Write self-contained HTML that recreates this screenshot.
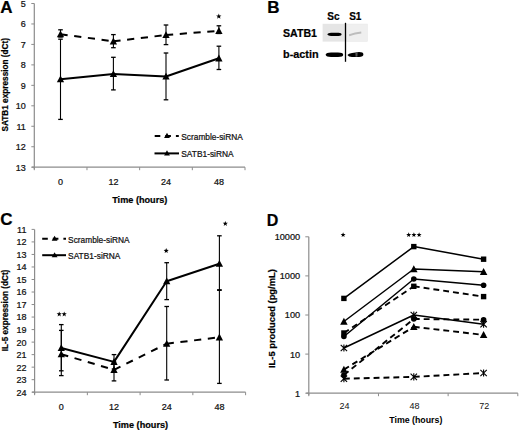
<!DOCTYPE html>
<html><head><meta charset="utf-8"><style>
html,body{margin:0;padding:0;background:#fff;}
svg{display:block;font-family:"Liberation Sans", sans-serif;}
text{stroke:#000;stroke-width:0.22px;paint-order:stroke;}
text.ns{stroke:none;}
</style></head><body>
<svg width="520" height="430" viewBox="0 0 520 430">
<rect width="520" height="430" fill="#fff"/>
<text x="0.20" y="12.90" font-size="17" font-weight="bold" text-anchor="start" fill="#000" >A</text>
<line x1="34.30" y1="3.50" x2="34.30" y2="169.20" stroke="#8c8c8c" stroke-width="1.2" />
<line x1="31.30" y1="3.50" x2="34.30" y2="3.50" stroke="#8c8c8c" stroke-width="1" />
<text x="25.80" y="6.90" font-size="9" font-weight="normal" text-anchor="end" fill="#111" >5</text>
<line x1="31.30" y1="23.96" x2="34.30" y2="23.96" stroke="#8c8c8c" stroke-width="1" />
<text x="25.80" y="27.36" font-size="9" font-weight="normal" text-anchor="end" fill="#111" >6</text>
<line x1="31.30" y1="44.42" x2="34.30" y2="44.42" stroke="#8c8c8c" stroke-width="1" />
<text x="25.80" y="47.82" font-size="9" font-weight="normal" text-anchor="end" fill="#111" >7</text>
<line x1="31.30" y1="64.89" x2="34.30" y2="64.89" stroke="#8c8c8c" stroke-width="1" />
<text x="25.80" y="68.29" font-size="9" font-weight="normal" text-anchor="end" fill="#111" >8</text>
<line x1="31.30" y1="85.35" x2="34.30" y2="85.35" stroke="#8c8c8c" stroke-width="1" />
<text x="25.80" y="88.75" font-size="9" font-weight="normal" text-anchor="end" fill="#111" >9</text>
<line x1="31.30" y1="105.81" x2="34.30" y2="105.81" stroke="#8c8c8c" stroke-width="1" />
<text x="25.80" y="109.21" font-size="9" font-weight="normal" text-anchor="end" fill="#111" >10</text>
<line x1="31.30" y1="126.27" x2="34.30" y2="126.27" stroke="#8c8c8c" stroke-width="1" />
<text x="25.80" y="129.67" font-size="9" font-weight="normal" text-anchor="end" fill="#111" >11</text>
<line x1="31.30" y1="146.74" x2="34.30" y2="146.74" stroke="#8c8c8c" stroke-width="1" />
<text x="25.80" y="150.14" font-size="9" font-weight="normal" text-anchor="end" fill="#111" >12</text>
<line x1="31.30" y1="167.20" x2="34.30" y2="167.20" stroke="#8c8c8c" stroke-width="1" />
<text x="25.80" y="170.60" font-size="9" font-weight="normal" text-anchor="end" fill="#111" >13</text>
<line x1="31.80" y1="167.20" x2="245.00" y2="167.20" stroke="#8c8c8c" stroke-width="1.2" />
<line x1="34.30" y1="167.20" x2="34.30" y2="170.20" stroke="#8c8c8c" stroke-width="1" />
<line x1="86.97" y1="167.20" x2="86.97" y2="170.20" stroke="#8c8c8c" stroke-width="1" />
<line x1="139.65" y1="167.20" x2="139.65" y2="170.20" stroke="#8c8c8c" stroke-width="1" />
<line x1="192.32" y1="167.20" x2="192.32" y2="170.20" stroke="#8c8c8c" stroke-width="1" />
<line x1="245.00" y1="167.20" x2="245.00" y2="170.20" stroke="#8c8c8c" stroke-width="1" />
<text x="60.50" y="184.80" font-size="9" font-weight="normal" text-anchor="middle" fill="#111" >0</text>
<text x="113.40" y="184.80" font-size="9" font-weight="normal" text-anchor="middle" fill="#111" >12</text>
<text x="166.00" y="184.80" font-size="9" font-weight="normal" text-anchor="middle" fill="#111" >24</text>
<text x="218.90" y="184.80" font-size="9" font-weight="normal" text-anchor="middle" fill="#111" >48</text>
<text x="139.80" y="203.00" font-size="9.6" font-weight="bold" text-anchor="middle" fill="#000"  textLength="55.2" lengthAdjust="spacingAndGlyphs">Time (hours)</text>
<text transform="translate(7.9,84.75) rotate(-90)" x="0" y="0" font-size="8.4" font-weight="bold" text-anchor="middle" fill="#000" textLength="93.5" lengthAdjust="spacingAndGlyphs">SATB1 expression (dCt)</text>
<line x1="60.50" y1="29.80" x2="60.50" y2="37.00" stroke="#000" stroke-width="1.1" />
<line x1="58.20" y1="29.80" x2="62.80" y2="29.80" stroke="#000" stroke-width="1.3" />
<line x1="58.20" y1="37.00" x2="62.80" y2="37.00" stroke="#000" stroke-width="1.3" />
<line x1="60.50" y1="39.20" x2="60.50" y2="119.40" stroke="#000" stroke-width="1.1" />
<line x1="58.20" y1="39.20" x2="62.80" y2="39.20" stroke="#000" stroke-width="1.3" />
<line x1="58.20" y1="119.40" x2="62.80" y2="119.40" stroke="#000" stroke-width="1.3" />
<line x1="113.40" y1="34.60" x2="113.40" y2="47.70" stroke="#000" stroke-width="1.1" />
<line x1="111.10" y1="34.60" x2="115.70" y2="34.60" stroke="#000" stroke-width="1.3" />
<line x1="111.10" y1="47.70" x2="115.70" y2="47.70" stroke="#000" stroke-width="1.3" />
<line x1="113.40" y1="57.30" x2="113.40" y2="89.90" stroke="#000" stroke-width="1.1" />
<line x1="111.10" y1="57.30" x2="115.70" y2="57.30" stroke="#000" stroke-width="1.3" />
<line x1="111.10" y1="89.90" x2="115.70" y2="89.90" stroke="#000" stroke-width="1.3" />
<line x1="166.00" y1="25.00" x2="166.00" y2="44.60" stroke="#000" stroke-width="1.1" />
<line x1="163.70" y1="25.00" x2="168.30" y2="25.00" stroke="#000" stroke-width="1.3" />
<line x1="163.70" y1="44.60" x2="168.30" y2="44.60" stroke="#000" stroke-width="1.3" />
<line x1="166.00" y1="53.00" x2="166.00" y2="99.80" stroke="#000" stroke-width="1.1" />
<line x1="163.70" y1="53.00" x2="168.30" y2="53.00" stroke="#000" stroke-width="1.3" />
<line x1="163.70" y1="99.80" x2="168.30" y2="99.80" stroke="#000" stroke-width="1.3" />
<line x1="218.90" y1="25.80" x2="218.90" y2="33.50" stroke="#000" stroke-width="1.1" />
<line x1="216.60" y1="25.80" x2="221.20" y2="25.80" stroke="#000" stroke-width="1.3" />
<line x1="216.60" y1="33.50" x2="221.20" y2="33.50" stroke="#000" stroke-width="1.3" />
<line x1="218.90" y1="46.20" x2="218.90" y2="69.50" stroke="#000" stroke-width="1.1" />
<line x1="216.60" y1="46.20" x2="221.20" y2="46.20" stroke="#000" stroke-width="1.3" />
<line x1="216.60" y1="69.50" x2="221.20" y2="69.50" stroke="#000" stroke-width="1.3" />
<line x1="60.50" y1="34.20" x2="113.40" y2="41.30" stroke="#000" stroke-width="2" stroke-dasharray="7.2,6.6"/>
<line x1="113.40" y1="41.30" x2="166.00" y2="35.00" stroke="#000" stroke-width="2" stroke-dasharray="7.2,6.6"/>
<line x1="166.00" y1="35.00" x2="218.90" y2="30.80" stroke="#000" stroke-width="2" stroke-dasharray="7.2,6.6"/>
<polyline points="60.50,79.20 113.40,74.00 166.00,76.50 218.90,58.30" fill="none" stroke="#000" stroke-width="2" stroke-linejoin="round"/>
<path d="M60.50,30.41 L64.15,37.31 L56.85,37.31 Z" fill="#000"/>
<path d="M60.50,75.41 L64.15,82.31 L56.85,82.31 Z" fill="#000"/>
<path d="M113.40,37.50 L117.05,44.41 L109.75,44.41 Z" fill="#000"/>
<path d="M113.40,70.20 L117.05,77.11 L109.75,77.11 Z" fill="#000"/>
<path d="M166.00,31.20 L169.65,38.11 L162.35,38.11 Z" fill="#000"/>
<path d="M166.00,72.70 L169.65,79.61 L162.35,79.61 Z" fill="#000"/>
<path d="M218.90,27.00 L222.55,33.91 L215.25,33.91 Z" fill="#000"/>
<path d="M218.90,54.50 L222.55,61.41 L215.25,61.41 Z" fill="#000"/>
<polygon points="218.80,13.60 219.51,15.43 221.46,15.53 219.94,16.77 220.45,18.67 218.80,17.60 217.15,18.67 217.66,16.77 216.14,15.53 218.09,15.43" fill="#000"/>
<line x1="154.70" y1="135.90" x2="178.80" y2="135.90" stroke="#000" stroke-width="2" stroke-dasharray="5.6,5"/>
<path d="M167.00,132.84 L169.90,138.04 L164.10,138.04 Z" fill="#000"/>
<text x="181.30" y="139.90" font-size="8.8" font-weight="normal" text-anchor="start" fill="#111"  textLength="61.5" lengthAdjust="spacingAndGlyphs">Scramble-siRNA</text>
<polyline points="154.50,153.40 179.00,153.40" fill="none" stroke="#000" stroke-width="2" stroke-linejoin="round"/>
<path d="M167.00,150.34 L169.90,155.54 L164.10,155.54 Z" fill="#000"/>
<text x="181.30" y="156.70" font-size="8.8" font-weight="normal" text-anchor="start" fill="#111"  textLength="52.3" lengthAdjust="spacingAndGlyphs">SATB1-siRNA</text>
<text x="267.20" y="12.90" font-size="17" font-weight="bold" text-anchor="start" fill="#000" >B</text>
<text x="333.40" y="20.30" font-size="10" font-weight="bold" text-anchor="middle" fill="#000" >Sc</text>
<text x="355.30" y="20.30" font-size="10" font-weight="bold" text-anchor="middle" fill="#000" >S1</text>
<defs><filter id="bl" x="-20%" y="-50%" width="140%" height="200%"><feGaussianBlur stdDeviation="0.45"/></filter><filter id="bl2" x="-20%" y="-50%" width="140%" height="200%"><feGaussianBlur stdDeviation="0.7"/></filter></defs>
<rect x="322.6" y="23.8" width="45" height="17.8" fill="#e5e5e5"/>
<rect x="346.5" y="24.2" width="20.5" height="17" fill="#efefef" filter="url(#bl2)"/>
<text x="283.00" y="36.50" font-size="10.5" font-weight="bold" text-anchor="start" fill="#000"  textLength="34.0" lengthAdjust="spacingAndGlyphs">SATB1</text>
<text x="283.00" y="57.90" font-size="10.8" font-weight="bold" text-anchor="start" fill="#000"  textLength="35.6" lengthAdjust="spacingAndGlyphs">b-actin</text>
<path d="M327.2,34.3 Q328,32.8 331,32.7 L338.5,32.7 Q341.6,32.8 341.6,34.3 Q341.6,35.9 338.5,35.9 L331,35.9 Q328,35.8 327.2,34.3 Z" fill="#000" filter="url(#bl)"/>
<path d="M349.0,34.2 Q355,32.2 361.2,31.4 L361.4,33.6 Q355,34.4 349.2,36.2 Z" fill="#bdbdbd" filter="url(#bl2)"/>
<path d="M325.6,54.8 Q326.2,52.6 331,52.5 L338,52.5 Q343.2,52.6 343.2,54.8 Q343.2,57.0 338,57.1 L331,57.1 Q326.2,57.0 325.6,54.8 Z" fill="#000" filter="url(#bl)"/>
<path d="M347.4,55.0 Q348.5,53.3 352,53.0 L359,52.0 Q363.4,52.0 363.4,54.4 Q363.4,56.8 359,56.9 L352,57.0 Q348.5,56.8 347.4,55.0 Z" fill="#000" filter="url(#bl)"/>
<path d="M355.4,53.0 L357.6,52.6 L357.4,56.6 L355.6,56.8 Z" fill="#555" filter="url(#bl)"/>
<line x1="345.50" y1="22.80" x2="345.50" y2="61.80" stroke="#000" stroke-width="1.3" />
<text x="0.20" y="224.90" font-size="17" font-weight="bold" text-anchor="start" fill="#000" >C</text>
<line x1="34.60" y1="229.40" x2="34.60" y2="394.20" stroke="#8c8c8c" stroke-width="1.2" />
<line x1="31.60" y1="229.40" x2="34.60" y2="229.40" stroke="#8c8c8c" stroke-width="1" />
<text x="26.40" y="232.80" font-size="9" font-weight="normal" text-anchor="end" fill="#111" >11</text>
<line x1="31.60" y1="241.92" x2="34.60" y2="241.92" stroke="#8c8c8c" stroke-width="1" />
<text x="26.40" y="245.32" font-size="9" font-weight="normal" text-anchor="end" fill="#111" >12</text>
<line x1="31.60" y1="254.45" x2="34.60" y2="254.45" stroke="#8c8c8c" stroke-width="1" />
<text x="26.40" y="257.85" font-size="9" font-weight="normal" text-anchor="end" fill="#111" >13</text>
<line x1="31.60" y1="266.97" x2="34.60" y2="266.97" stroke="#8c8c8c" stroke-width="1" />
<text x="26.40" y="270.37" font-size="9" font-weight="normal" text-anchor="end" fill="#111" >14</text>
<line x1="31.60" y1="279.49" x2="34.60" y2="279.49" stroke="#8c8c8c" stroke-width="1" />
<text x="26.40" y="282.89" font-size="9" font-weight="normal" text-anchor="end" fill="#111" >15</text>
<line x1="31.60" y1="292.02" x2="34.60" y2="292.02" stroke="#8c8c8c" stroke-width="1" />
<text x="26.40" y="295.42" font-size="9" font-weight="normal" text-anchor="end" fill="#111" >16</text>
<line x1="31.60" y1="304.54" x2="34.60" y2="304.54" stroke="#8c8c8c" stroke-width="1" />
<text x="26.40" y="307.94" font-size="9" font-weight="normal" text-anchor="end" fill="#111" >17</text>
<line x1="31.60" y1="317.06" x2="34.60" y2="317.06" stroke="#8c8c8c" stroke-width="1" />
<text x="26.40" y="320.46" font-size="9" font-weight="normal" text-anchor="end" fill="#111" >18</text>
<line x1="31.60" y1="329.58" x2="34.60" y2="329.58" stroke="#8c8c8c" stroke-width="1" />
<text x="26.40" y="332.98" font-size="9" font-weight="normal" text-anchor="end" fill="#111" >19</text>
<line x1="31.60" y1="342.11" x2="34.60" y2="342.11" stroke="#8c8c8c" stroke-width="1" />
<text x="26.40" y="345.51" font-size="9" font-weight="normal" text-anchor="end" fill="#111" >20</text>
<line x1="31.60" y1="354.63" x2="34.60" y2="354.63" stroke="#8c8c8c" stroke-width="1" />
<text x="26.40" y="358.03" font-size="9" font-weight="normal" text-anchor="end" fill="#111" >21</text>
<line x1="31.60" y1="367.15" x2="34.60" y2="367.15" stroke="#8c8c8c" stroke-width="1" />
<text x="26.40" y="370.55" font-size="9" font-weight="normal" text-anchor="end" fill="#111" >22</text>
<line x1="31.60" y1="379.68" x2="34.60" y2="379.68" stroke="#8c8c8c" stroke-width="1" />
<text x="26.40" y="383.08" font-size="9" font-weight="normal" text-anchor="end" fill="#111" >23</text>
<line x1="31.60" y1="392.20" x2="34.60" y2="392.20" stroke="#8c8c8c" stroke-width="1" />
<text x="26.40" y="395.60" font-size="9" font-weight="normal" text-anchor="end" fill="#111" >24</text>
<line x1="32.10" y1="392.20" x2="245.60" y2="392.20" stroke="#8c8c8c" stroke-width="1.2" />
<line x1="34.60" y1="392.20" x2="34.60" y2="395.20" stroke="#8c8c8c" stroke-width="1" />
<line x1="87.35" y1="392.20" x2="87.35" y2="395.20" stroke="#8c8c8c" stroke-width="1" />
<line x1="140.10" y1="392.20" x2="140.10" y2="395.20" stroke="#8c8c8c" stroke-width="1" />
<line x1="192.85" y1="392.20" x2="192.85" y2="395.20" stroke="#8c8c8c" stroke-width="1" />
<line x1="245.60" y1="392.20" x2="245.60" y2="395.20" stroke="#8c8c8c" stroke-width="1" />
<text x="61.30" y="409.80" font-size="9" font-weight="normal" text-anchor="middle" fill="#111" >0</text>
<text x="114.00" y="409.80" font-size="9" font-weight="normal" text-anchor="middle" fill="#111" >12</text>
<text x="166.70" y="409.80" font-size="9" font-weight="normal" text-anchor="middle" fill="#111" >24</text>
<text x="219.40" y="409.80" font-size="9" font-weight="normal" text-anchor="middle" fill="#111" >48</text>
<text x="140.50" y="427.80" font-size="9.6" font-weight="bold" text-anchor="middle" fill="#000"  textLength="55.2" lengthAdjust="spacingAndGlyphs">Time (hours)</text>
<text transform="translate(8.0,310.5) rotate(-90)" x="0" y="0" font-size="8.4" font-weight="bold" text-anchor="middle" fill="#000" textLength="81.7" lengthAdjust="spacingAndGlyphs">IL-5 expression (dCt)</text>
<line x1="61.30" y1="330.40" x2="61.30" y2="375.60" stroke="#000" stroke-width="1.1" />
<line x1="59.00" y1="330.40" x2="63.60" y2="330.40" stroke="#000" stroke-width="1.3" />
<line x1="59.00" y1="375.60" x2="63.60" y2="375.60" stroke="#000" stroke-width="1.3" />
<line x1="61.30" y1="324.60" x2="61.30" y2="370.80" stroke="#000" stroke-width="1.1" />
<line x1="59.00" y1="324.60" x2="63.60" y2="324.60" stroke="#000" stroke-width="1.3" />
<line x1="59.00" y1="370.80" x2="63.60" y2="370.80" stroke="#000" stroke-width="1.3" />
<line x1="114.00" y1="362.00" x2="114.00" y2="380.90" stroke="#000" stroke-width="1.1" />
<line x1="111.70" y1="362.00" x2="116.30" y2="362.00" stroke="#000" stroke-width="1.3" />
<line x1="111.70" y1="380.90" x2="116.30" y2="380.90" stroke="#000" stroke-width="1.3" />
<line x1="114.00" y1="354.60" x2="114.00" y2="369.00" stroke="#000" stroke-width="1.1" />
<line x1="111.70" y1="354.60" x2="116.30" y2="354.60" stroke="#000" stroke-width="1.3" />
<line x1="111.70" y1="369.00" x2="116.30" y2="369.00" stroke="#000" stroke-width="1.3" />
<line x1="166.70" y1="306.50" x2="166.70" y2="380.00" stroke="#000" stroke-width="1.1" />
<line x1="164.40" y1="306.50" x2="169.00" y2="306.50" stroke="#000" stroke-width="1.3" />
<line x1="164.40" y1="380.00" x2="169.00" y2="380.00" stroke="#000" stroke-width="1.3" />
<line x1="166.70" y1="262.70" x2="166.70" y2="299.60" stroke="#000" stroke-width="1.1" />
<line x1="164.40" y1="262.70" x2="169.00" y2="262.70" stroke="#000" stroke-width="1.3" />
<line x1="164.40" y1="299.60" x2="169.00" y2="299.60" stroke="#000" stroke-width="1.3" />
<line x1="219.40" y1="289.80" x2="219.40" y2="383.40" stroke="#000" stroke-width="1.1" />
<line x1="217.10" y1="289.80" x2="221.70" y2="289.80" stroke="#000" stroke-width="1.3" />
<line x1="217.10" y1="383.40" x2="221.70" y2="383.40" stroke="#000" stroke-width="1.3" />
<line x1="219.40" y1="235.80" x2="219.40" y2="290.30" stroke="#000" stroke-width="1.1" />
<line x1="217.10" y1="235.80" x2="221.70" y2="235.80" stroke="#000" stroke-width="1.3" />
<line x1="217.10" y1="290.30" x2="221.70" y2="290.30" stroke="#000" stroke-width="1.3" />
<line x1="61.30" y1="354.20" x2="114.00" y2="369.80" stroke="#000" stroke-width="2" stroke-dasharray="7.2,6.6"/>
<line x1="114.00" y1="369.80" x2="166.70" y2="343.70" stroke="#000" stroke-width="2" stroke-dasharray="7.2,6.6"/>
<line x1="166.70" y1="343.70" x2="219.40" y2="337.30" stroke="#000" stroke-width="2" stroke-dasharray="7.2,6.6"/>
<polyline points="61.30,348.00 114.00,361.90 166.70,281.20 219.40,263.70" fill="none" stroke="#000" stroke-width="2" stroke-linejoin="round"/>
<path d="M61.30,350.40 L64.95,357.31 L57.65,357.31 Z" fill="#000"/>
<path d="M61.30,344.20 L64.95,351.11 L57.65,351.11 Z" fill="#000"/>
<path d="M114.00,366.00 L117.65,372.91 L110.35,372.91 Z" fill="#000"/>
<path d="M114.00,358.10 L117.65,365.00 L110.35,365.00 Z" fill="#000"/>
<path d="M166.70,339.90 L170.35,346.81 L163.05,346.81 Z" fill="#000"/>
<path d="M166.70,277.40 L170.35,284.31 L163.05,284.31 Z" fill="#000"/>
<path d="M219.40,333.50 L223.05,340.41 L215.75,340.41 Z" fill="#000"/>
<path d="M219.40,259.90 L223.05,266.81 L215.75,266.81 Z" fill="#000"/>
<polygon points="59.20,311.50 59.88,313.27 61.77,313.37 60.29,314.56 60.79,316.38 59.20,315.35 57.61,316.38 58.11,314.56 56.63,313.37 58.52,313.27" fill="#000"/>
<polygon points="64.20,311.50 64.88,313.27 66.77,313.37 65.29,314.56 65.79,316.38 64.20,315.35 62.61,316.38 63.11,314.56 61.63,313.37 63.52,313.27" fill="#000"/>
<polygon points="166.20,248.10 166.88,249.87 168.77,249.97 167.29,251.16 167.79,252.98 166.20,251.95 164.61,252.98 165.11,251.16 163.63,249.97 165.52,249.87" fill="#000"/>
<polygon points="225.30,221.00 225.98,222.77 227.87,222.87 226.39,224.06 226.89,225.88 225.30,224.85 223.71,225.88 224.21,224.06 222.73,222.87 224.62,222.77" fill="#000"/>
<line x1="42.20" y1="238.70" x2="66.00" y2="238.70" stroke="#000" stroke-width="2" stroke-dasharray="5.6,5"/>
<path d="M54.60,235.64 L57.50,240.84 L51.70,240.84 Z" fill="#000"/>
<text x="68.10" y="242.80" font-size="8.8" font-weight="normal" text-anchor="start" fill="#111"  textLength="61.5" lengthAdjust="spacingAndGlyphs">Scramble-siRNA</text>
<polyline points="42.20,255.20 66.00,255.20" fill="none" stroke="#000" stroke-width="2" stroke-linejoin="round"/>
<path d="M54.60,252.14 L57.50,257.34 L51.70,257.34 Z" fill="#000"/>
<text x="68.10" y="258.90" font-size="8.8" font-weight="normal" text-anchor="start" fill="#111"  textLength="52.3" lengthAdjust="spacingAndGlyphs">SATB1-siRNA</text>
<text x="266.80" y="225.60" font-size="16" font-weight="bold" text-anchor="start" fill="#000" >D</text>
<line x1="308.80" y1="236.80" x2="308.80" y2="395.20" stroke="#8c8c8c" stroke-width="1.2" />
<line x1="305.30" y1="236.80" x2="308.80" y2="236.80" stroke="#8c8c8c" stroke-width="1" />
<text x="300.20" y="240.20" font-size="9.2" font-weight="normal" text-anchor="end" fill="#111" >10000</text>
<line x1="305.30" y1="275.90" x2="308.80" y2="275.90" stroke="#8c8c8c" stroke-width="1" />
<text x="300.20" y="279.30" font-size="9.2" font-weight="normal" text-anchor="end" fill="#111" >1000</text>
<line x1="305.30" y1="315.00" x2="308.80" y2="315.00" stroke="#8c8c8c" stroke-width="1" />
<text x="300.20" y="318.40" font-size="9.2" font-weight="normal" text-anchor="end" fill="#111" >100</text>
<line x1="305.30" y1="354.10" x2="308.80" y2="354.10" stroke="#8c8c8c" stroke-width="1" />
<text x="300.20" y="357.50" font-size="9.2" font-weight="normal" text-anchor="end" fill="#111" >10</text>
<line x1="305.30" y1="393.20" x2="308.80" y2="393.20" stroke="#8c8c8c" stroke-width="1" />
<text x="300.20" y="396.60" font-size="9.2" font-weight="normal" text-anchor="end" fill="#111" >1</text>
<line x1="306.30" y1="393.20" x2="517.80" y2="393.20" stroke="#8c8c8c" stroke-width="1.2" />
<line x1="308.80" y1="393.20" x2="308.80" y2="396.20" stroke="#8c8c8c" stroke-width="1" />
<line x1="378.47" y1="393.20" x2="378.47" y2="396.20" stroke="#8c8c8c" stroke-width="1" />
<line x1="448.13" y1="393.20" x2="448.13" y2="396.20" stroke="#8c8c8c" stroke-width="1" />
<line x1="517.80" y1="393.20" x2="517.80" y2="396.20" stroke="#8c8c8c" stroke-width="1" />
<text x="344.50" y="409.00" font-size="9" font-weight="normal" text-anchor="middle" fill="#111" class="ns">24</text>
<text x="414.40" y="409.00" font-size="9" font-weight="normal" text-anchor="middle" fill="#111" class="ns">48</text>
<text x="484.20" y="409.00" font-size="9" font-weight="normal" text-anchor="middle" fill="#111" class="ns">72</text>
<text x="415.80" y="423.00" font-size="8.8" font-weight="bold" text-anchor="middle" fill="#000" class="ns">Time (hours)</text>
<text transform="translate(274.7,318.6) rotate(-90)" x="0" y="0" font-size="9.4" font-weight="bold" text-anchor="middle" fill="#000">IL-5 produced (pg/mL)</text>
<polyline points="343.90,298.40 413.80,246.60 483.60,259.20" fill="none" stroke="#000" stroke-width="1.5" stroke-linejoin="round"/>
<polyline points="343.90,321.50 413.80,269.00 483.60,271.80" fill="none" stroke="#000" stroke-width="1.5" stroke-linejoin="round"/>
<polyline points="343.90,336.50 413.80,279.00 483.60,285.30" fill="none" stroke="#000" stroke-width="1.5" stroke-linejoin="round"/>
<line x1="343.90" y1="333.00" x2="413.80" y2="286.30" stroke="#000" stroke-width="1.9" stroke-dasharray="5.9,4"/>
<line x1="413.80" y1="286.30" x2="483.60" y2="296.60" stroke="#000" stroke-width="1.9" stroke-dasharray="5.9,4"/>
<polyline points="343.90,348.00 413.80,315.00 483.60,324.20" fill="none" stroke="#000" stroke-width="1.5" stroke-linejoin="round"/>
<line x1="343.90" y1="375.00" x2="413.80" y2="319.00" stroke="#000" stroke-width="1.9" stroke-dasharray="5.9,4"/>
<line x1="413.80" y1="319.00" x2="483.60" y2="319.70" stroke="#000" stroke-width="1.9" stroke-dasharray="5.9,4"/>
<line x1="343.90" y1="369.60" x2="413.80" y2="326.80" stroke="#000" stroke-width="1.9" stroke-dasharray="5.9,4"/>
<line x1="413.80" y1="326.80" x2="483.60" y2="334.90" stroke="#000" stroke-width="1.9" stroke-dasharray="5.9,4"/>
<line x1="343.90" y1="378.70" x2="413.80" y2="376.90" stroke="#000" stroke-width="1.9" stroke-dasharray="5.9,4"/>
<line x1="413.80" y1="376.90" x2="483.60" y2="373.00" stroke="#000" stroke-width="1.9" stroke-dasharray="5.9,4"/>
<rect x="341.20" y="295.70" width="5.4" height="5.4" fill="#000"/>
<rect x="411.10" y="243.90" width="5.4" height="5.4" fill="#000"/>
<rect x="480.90" y="256.50" width="5.4" height="5.4" fill="#000"/>
<path d="M343.90,317.65 L347.65,324.65 L340.15,324.65 Z" fill="#000"/>
<path d="M413.80,265.15 L417.55,272.15 L410.05,272.15 Z" fill="#000"/>
<path d="M483.60,267.95 L487.35,274.95 L479.85,274.95 Z" fill="#000"/>
<circle cx="343.90" cy="336.50" r="2.8" fill="#000"/>
<circle cx="413.80" cy="279.00" r="2.8" fill="#000"/>
<circle cx="483.60" cy="285.30" r="2.8" fill="#000"/>
<rect x="341.20" y="330.30" width="5.4" height="5.4" fill="#000"/>
<rect x="411.10" y="283.60" width="5.4" height="5.4" fill="#000"/>
<rect x="480.90" y="293.90" width="5.4" height="5.4" fill="#000"/>
<path d="M340.70,344.80 L347.10,351.20 M347.10,344.80 L340.70,351.20 M343.90,344.40 L343.90,351.60" stroke="#000" stroke-width="1.1" fill="none"/>
<path d="M410.60,311.80 L417.00,318.20 M417.00,311.80 L410.60,318.20 M413.80,311.40 L413.80,318.60" stroke="#000" stroke-width="1.1" fill="none"/>
<path d="M480.40,321.00 L486.80,327.40 M486.80,321.00 L480.40,327.40 M483.60,320.60 L483.60,327.80" stroke="#000" stroke-width="1.1" fill="none"/>
<circle cx="343.90" cy="375.00" r="2.8" fill="#000"/>
<circle cx="413.80" cy="319.00" r="2.8" fill="#000"/>
<circle cx="483.60" cy="319.70" r="2.8" fill="#000"/>
<path d="M343.90,365.75 L347.65,372.75 L340.15,372.75 Z" fill="#000"/>
<path d="M413.80,322.95 L417.55,329.95 L410.05,329.95 Z" fill="#000"/>
<path d="M483.60,331.05 L487.35,338.05 L479.85,338.05 Z" fill="#000"/>
<path d="M340.70,375.50 L347.10,381.90 M347.10,375.50 L340.70,381.90 M343.90,375.10 L343.90,382.30" stroke="#000" stroke-width="1.1" fill="none"/>
<path d="M410.60,373.70 L417.00,380.10 M417.00,373.70 L410.60,380.10 M413.80,373.30 L413.80,380.50" stroke="#000" stroke-width="1.1" fill="none"/>
<path d="M480.40,369.80 L486.80,376.20 M486.80,369.80 L480.40,376.20 M483.60,369.40 L483.60,376.60" stroke="#000" stroke-width="1.1" fill="none"/>
<polygon points="343.10,232.20 343.75,233.91 345.57,234.00 344.15,235.14 344.63,236.90 343.10,235.90 341.57,236.90 342.05,235.14 340.63,234.00 342.45,233.91" fill="#000"/>
<polygon points="408.70,232.20 409.35,233.91 411.17,234.00 409.75,235.14 410.23,236.90 408.70,235.90 407.17,236.90 407.65,235.14 406.23,234.00 408.05,233.91" fill="#000"/>
<polygon points="413.90,232.20 414.55,233.91 416.37,234.00 414.95,235.14 415.43,236.90 413.90,235.90 412.37,236.90 412.85,235.14 411.43,234.00 413.25,233.91" fill="#000"/>
<polygon points="419.10,232.20 419.75,233.91 421.57,234.00 420.15,235.14 420.63,236.90 419.10,235.90 417.57,236.90 418.05,235.14 416.63,234.00 418.45,233.91" fill="#000"/>
</svg>
</body></html>
